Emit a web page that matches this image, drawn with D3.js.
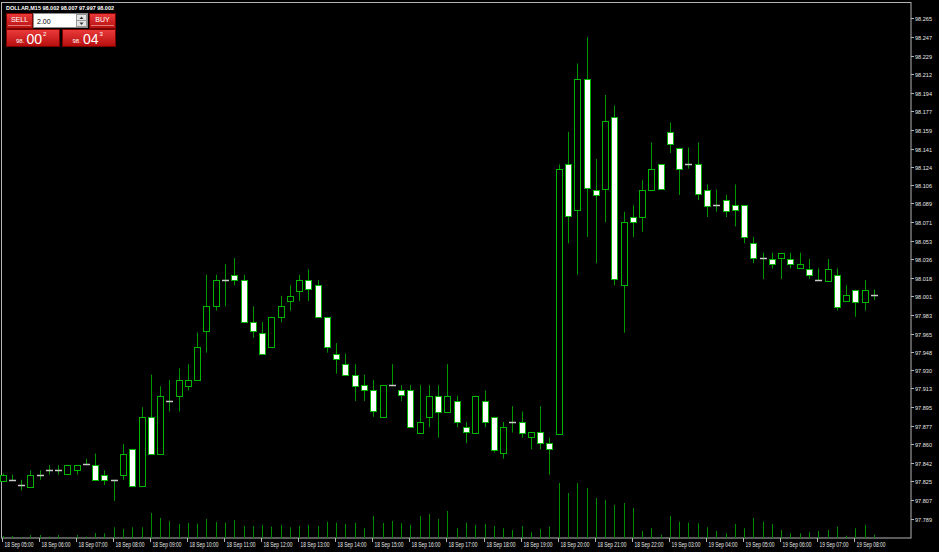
<!DOCTYPE html>
<html>
<head>
<meta charset="utf-8">
<script src="https://cdn.jsdelivr.net/npm/d3@7"></script>
<style>
  html, body { margin: 0; padding: 0; background: #000; }
  svg { display: block; }
  text { font-family: "Liberation Sans", Arial, sans-serif; }
</style>
</head>
<body>
<svg id="chart" width="939" height="552"></svg>
<script>
// DOLLAR, M15 — candles (index 0 = 18 Sep 05:00)
const symbol = "DOLLAR,M15";

const hourLabels = [
  "18 Sep 05:00", "18 Sep 06:00", "18 Sep 07:00", "18 Sep 08:00", "18 Sep 09:00", "18 Sep 10:00",
  "18 Sep 11:00", "18 Sep 12:00", "18 Sep 13:00", "18 Sep 14:00", "18 Sep 15:00", "18 Sep 16:00",
  "18 Sep 17:00", "18 Sep 18:00", "18 Sep 19:00", "18 Sep 20:00", "18 Sep 21:00", "18 Sep 22:00",
  "19 Sep 03:00", "19 Sep 04:00", "19 Sep 05:00", "19 Sep 06:00", "19 Sep 07:00", "19 Sep 08:00"
];

const opens = [
  97.825, 97.826, 97.821, 97.820, 97.831, 97.835, 97.835, 97.831, 97.835, 97.841,
  97.840, 97.831, 97.826, 97.831, 97.855, 97.820, 97.886, 97.851, 97.901, 97.906,
  97.915, 97.921, 97.967, 97.991, 98.016, 98.021, 98.016, 97.976, 97.966, 97.952,
  97.981, 97.996, 98.006, 98.016, 98.011, 97.981, 97.946, 97.936, 97.926, 97.916,
  97.911, 97.886, 97.916, 97.911, 97.911, 97.871, 97.886, 97.906, 97.891, 97.901,
  97.876, 97.871, 97.901, 97.886, 97.851, 97.881, 97.881, 97.866, 97.871, 97.861,
  97.870, 98.126, 98.082, 98.207, 98.102, 98.102, 98.171, 98.011, 98.076, 98.076,
  98.102, 98.126, 98.157, 98.142, 98.126, 98.126, 98.102, 98.087, 98.092, 98.087,
  98.087, 98.051, 98.037, 98.036, 98.037, 98.036, 98.027, 98.027, 98.016, 98.016,
  98.021, 97.996, 98.007, 97.996, 98.002
];
const highs = [
  97.832, 97.831, 97.826, 97.835, 97.835, 97.840, 97.840, 97.840, 97.840, 97.846,
  97.851, 97.835, 97.826, 97.860, 97.855, 97.895, 97.926, 97.915, 97.921, 97.932,
  97.936, 97.966, 98.021, 98.021, 98.031, 98.037, 98.021, 97.991, 97.976, 97.981,
  98.001, 98.011, 98.021, 98.026, 98.016, 97.981, 97.956, 97.946, 97.936, 97.926,
  97.921, 97.916, 97.936, 97.916, 97.916, 97.916, 97.916, 97.916, 97.936, 97.906,
  97.881, 97.906, 97.911, 97.886, 97.881, 97.896, 97.891, 97.871, 97.896, 97.866,
  98.126, 98.157, 98.222, 98.247, 98.131, 98.192, 98.182, 98.081, 98.087, 98.111,
  98.147, 98.126, 98.166, 98.142, 98.142, 98.147, 98.107, 98.102, 98.097, 98.107,
  98.087, 98.057, 98.042, 98.042, 98.042, 98.042, 98.042, 98.036, 98.027, 98.036,
  98.027, 98.011, 98.007, 98.016, 98.007
];
const lows = [
  97.824, 97.825, 97.816, 97.820, 97.826, 97.831, 97.831, 97.831, 97.831, 97.840,
  97.825, 97.821, 97.806, 97.826, 97.820, 97.820, 97.851, 97.851, 97.891, 97.891,
  97.911, 97.921, 97.947, 97.987, 97.991, 98.011, 97.976, 97.961, 97.946, 97.952,
  97.976, 97.987, 97.996, 97.996, 97.981, 97.947, 97.927, 97.926, 97.901, 97.901,
  97.886, 97.886, 97.915, 97.901, 97.876, 97.871, 97.876, 97.866, 97.891, 97.876,
  97.861, 97.871, 97.876, 97.852, 97.846, 97.871, 97.866, 97.855, 97.855, 97.831,
  97.870, 98.051, 98.021, 98.057, 98.032, 98.071, 98.011, 97.966, 98.057, 98.062,
  98.102, 98.102, 98.137, 98.097, 98.122, 98.092, 98.076, 98.081, 98.076, 98.067,
  98.051, 98.032, 98.017, 98.027, 98.017, 98.027, 98.027, 98.017, 98.016, 98.016,
  97.987, 97.996, 97.981, 97.987, 97.997
];
const closes = [
  97.831, 97.826, 97.821, 97.831, 97.831, 97.835, 97.835, 97.840, 97.840, 97.841,
  97.826, 97.826, 97.826, 97.851, 97.820, 97.886, 97.851, 97.906, 97.901, 97.921,
  97.921, 97.952, 97.991, 98.016, 98.016, 98.016, 97.976, 97.967, 97.946, 97.981,
  97.991, 98.001, 98.016, 98.007, 97.981, 97.952, 97.941, 97.926, 97.916, 97.911,
  97.891, 97.916, 97.916, 97.906, 97.876, 97.881, 97.906, 97.891, 97.906, 97.881,
  97.871, 97.906, 97.881, 97.855, 97.876, 97.881, 97.871, 97.871, 97.861, 97.855,
  98.122, 98.077, 98.207, 98.103, 98.097, 98.167, 98.017, 98.071, 98.071, 98.102,
  98.122, 98.102, 98.146, 98.122, 98.126, 98.097, 98.087, 98.087, 98.082, 98.082,
  98.057, 98.037, 98.037, 98.031, 98.042, 98.031, 98.031, 98.021, 98.016, 98.027,
  97.991, 98.002, 97.996, 98.007, 98.002
];
// tick volumes
const volumes = [
  20, 20, 10, 30, 30, 15, 30, 10, 30, 15,
  50, 47, 107, 90, 107, 107, 250, 200, 167, 140,
  150, 143, 190, 160, 153, 180, 120, 120, 130, 113,
  130, 107, 120, 130, 120, 163, 153, 140, 153, 97,
  220, 150, 170, 147, 130, 220, 240, 190, 270, 97,
  153, 130, 140, 120, 97, 80, 120, 57, 90, 113,
  550, 450, 550, 500, 400, 380, 330, 350, 300, 70,
  97, 33, 220, 163, 153, 147, 107, 70, 47, 140,
  97, 200, 163, 140, 80, 47, 47, 57, 70, 80,
  113, 23, 97, 130, 33
];

const priceTicks = [
  "98.265", "98.247", "98.229", "98.212", "98.194", "98.177", "98.159", "98.141", "98.124", "98.106",
  "98.089", "98.071", "98.053", "98.036", "98.018", "98.001", "97.983", "97.965", "97.948", "97.930",
  "97.913", "97.895", "97.877", "97.860", "97.842", "97.825", "97.807", "97.789"
];

const bid = { big: "00", pip: "2" };   // 98.002
const ask = { big: "04", pip: "3" };   // 98.043
const lotSize = "2.00";

// ── colours (MT4 green-on-black)
const FRAME = "#b4b4b4";
const LABEL = "#e6e6e6";
const BODY_STROKE = "#00b400";
const WICK = "#009600";
const VOL = "#008c00";
const DOJI = "#c8c8c8";

const svg = d3.select("#chart");
svg.append("rect").attr("width", 939).attr("height", 552).attr("fill", "#000");

const PLOT_R = 911, PLOT_B = 538;
const x = d3.scaleLinear().domain([0, opens.length - 1]).range([2.5, 873.9]);
const y = d3.scaleLinear().domain([97.789, 98.265]).range([518.7, 18.3]);
const v = d3.scaleLinear().domain([0, d3.max(volumes)]).range([0, 55]);
const px = (i) => Math.round(x(i)) + 0.5;

// frame
svg.append("rect")
  .attr("x", 1.5).attr("y", 2.5)
  .attr("width", PLOT_R - 1.5).attr("height", PLOT_B - 2.5)
  .attr("fill", "none").attr("stroke", FRAME);

// volumes
svg.append("g").selectAll("line")
  .data(volumes)
  .join("line")
  .attr("x1", (d, i) => px(i)).attr("x2", (d, i) => px(i))
  .attr("y1", PLOT_B).attr("y2", (d) => PLOT_B - v(d))
  .attr("stroke", VOL).attr("stroke-width", 1);

// candles
const bars = opens.map((o, i) => ({ i, o, h: highs[i], l: lows[i], c: closes[i] }));
const gC = svg.append("g");

gC.selectAll("line.wick")
  .data(bars)
  .join("line")
  .attr("class", "wick")
  .attr("x1", (d) => px(d.i)).attr("x2", (d) => px(d.i))
  .attr("y1", (d) => y(d.h)).attr("y2", (d) => y(d.l))
  .attr("stroke", WICK).attr("stroke-width", 1);

gC.selectAll("rect.body")
  .data(bars.filter((d) => d.o !== d.c))
  .join("rect")
  .attr("class", "body")
  .attr("x", (d) => px(d.i) - 3)
  .attr("width", 6)
  .attr("y", (d) => Math.round(y(Math.max(d.o, d.c))) + 0.5)
  .attr("height", (d) => Math.max(1, Math.round(Math.abs(y(d.o) - y(d.c)))))
  .attr("fill", (d) => (d.c > d.o ? "#000" : "#fff"))
  .attr("stroke", BODY_STROKE).attr("stroke-width", 1);

gC.selectAll("line.doji")
  .data(bars.filter((d) => d.o === d.c))
  .join("line")
  .attr("class", "doji")
  .attr("x1", (d) => px(d.i) - 3.5).attr("x2", (d) => px(d.i) + 3.5)
  .attr("y1", (d) => Math.round(y(d.c)) + 0.5).attr("y2", (d) => Math.round(y(d.c)) + 0.5)
  .attr("stroke", DOJI).attr("stroke-width", 1.5);

// price axis
const gY = svg.append("g");
priceTicks.forEach((s) => {
  const yy = Math.round(y(+s)) + 0.5;
  gY.append("line").attr("x1", PLOT_R).attr("x2", PLOT_R + 3)
    .attr("y1", yy).attr("y2", yy).attr("stroke", FRAME);
  gY.append("text").attr("x", PLOT_R + 4).attr("y", yy).attr("dy", "0.35em")
    .attr("font-size", 6).attr("fill", LABEL)
    .attr("textLength", 17).attr("lengthAdjust", "spacingAndGlyphs").text(s);
});

// time axis
const gX = svg.append("g");
hourLabels.forEach((s, k) => {
  const xx = px(k * 4) - 1;
  gX.append("line").attr("x1", xx).attr("x2", xx)
    .attr("y1", PLOT_B).attr("y2", PLOT_B + 4).attr("stroke", FRAME);
  gX.append("text").attr("x", xx + 2).attr("y", PLOT_B + 9)
    .attr("font-size", 6.5).attr("fill", LABEL)
    .attr("textLength", 29).attr("lengthAdjust", "spacingAndGlyphs").text(s);
});

// header line: symbol + OHLC of the last bar
const last = opens.length - 1;
svg.append("text").attr("x", 6).attr("y", 9.5)
  .attr("font-size", 6).attr("font-weight", "bold").attr("fill", "#fff")
  .attr("textLength", 108).attr("lengthAdjust", "spacingAndGlyphs")
  .text(`${symbol} ${opens[last].toFixed(3)} ${highs[last].toFixed(3)} ${lows[last].toFixed(3)} ${closes[last].toFixed(3)}`);

// one-click trading panel
const defs = svg.append("defs");
const grad = defs.append("linearGradient").attr("id", "red").attr("x1", 0).attr("y1", 0).attr("x2", 0).attr("y2", 1);
grad.append("stop").attr("offset", 0).attr("stop-color", "#ec3b3b");
grad.append("stop").attr("offset", 1).attr("stop-color", "#b50e0e");

const panel = svg.append("g");
function button(x0, y0, w, h) {
  panel.append("rect").attr("x", x0).attr("y", y0).attr("width", w).attr("height", h)
    .attr("fill", "url(#red)").attr("stroke", "#7a0000").attr("stroke-width", 1);
}
button(6.5, 13.5, 26, 15);
button(89.5, 13.5, 26, 15);
[[8, 31], [91, 114]].forEach(([a, b]) => {
  panel.append("line").attr("x1", a).attr("x2", b).attr("y1", 25.5).attr("y2", 25.5)
    .attr("stroke", "#f3a0a0").attr("stroke-width", 0.7);
});
panel.append("text").attr("x", 19.5).attr("y", 22).attr("text-anchor", "middle")
  .attr("font-size", 7).attr("fill", "#fff").text("SELL");
panel.append("text").attr("x", 102.5).attr("y", 22).attr("text-anchor", "middle")
  .attr("font-size", 7).attr("fill", "#fff").text("BUY");

// lot input with spinner
panel.append("rect").attr("x", 33.5).attr("y", 13.5).attr("width", 54).attr("height", 14)
  .attr("fill", "#fff").attr("stroke", "#8a8a8a");
panel.append("text").attr("x", 37).attr("y", 23.5).attr("font-size", 7).attr("fill", "#000").text(lotSize);
panel.append("rect").attr("x", 76.5).attr("y", 14.5).attr("width", 10).attr("height", 12)
  .attr("fill", "#e4e4e4").attr("stroke", "#9a9a9a");
panel.append("line").attr("x1", 76.5).attr("x2", 86.5).attr("y1", 20.5).attr("y2", 20.5).attr("stroke", "#9a9a9a");
panel.append("path").attr("d", "M79.5,19 L81.5,16.5 L83.5,19 Z").attr("fill", "#333");
panel.append("path").attr("d", "M79.5,22.5 L81.5,25 L83.5,22.5 Z").attr("fill", "#333");

// bid / ask price boxes
button(6.5, 29.5, 53, 17);
button(62.5, 29.5, 53, 17);
[[16, bid], [72.5, ask]].forEach(([x0, q]) => {
  panel.append("text").attr("x", x0).attr("y", 42.5).attr("font-size", 6).attr("fill", "#fff").text("98.");
  panel.append("text").attr("x", x0 + 10.5).attr("y", 43.5).attr("font-size", 14).attr("fill", "#fff").text(q.big);
  panel.append("text").attr("x", x0 + 27).attr("y", 36).attr("font-size", 6).attr("fill", "#fff").text(q.pip);
});
</script>
</body>
</html>
